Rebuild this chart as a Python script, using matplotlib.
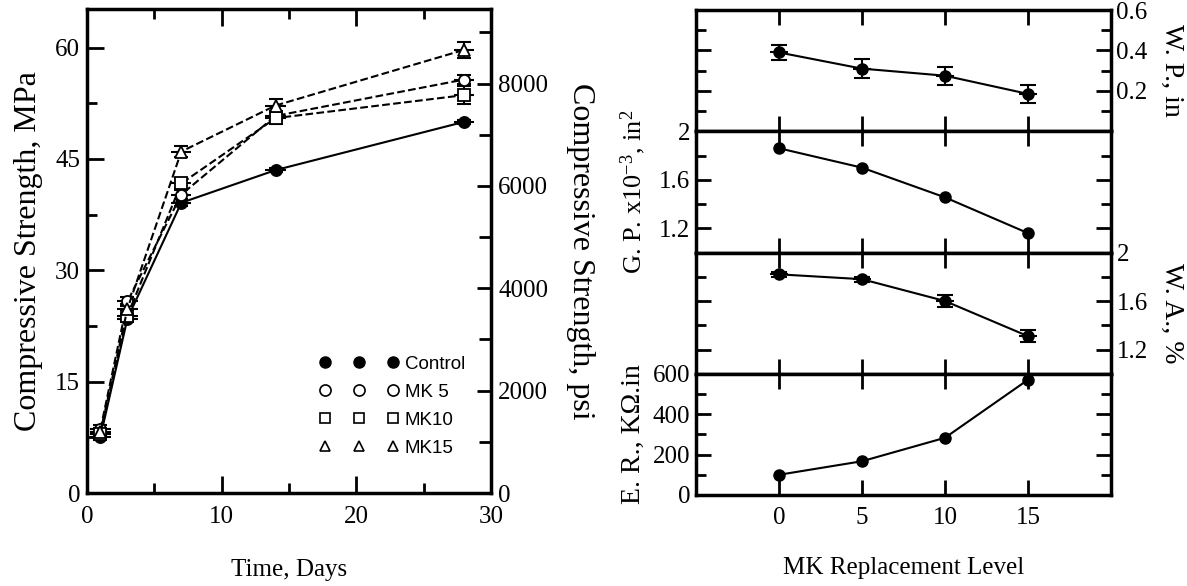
import numpy as np
import matplotlib
matplotlib.use("Agg")
import matplotlib.pyplot as plt
from matplotlib.lines import Line2D
from matplotlib.ticker import MultipleLocator
from matplotlib import font_manager

plt.rcParams['font.family'] = ['Liberation Serif', 'DejaVu Serif']
plt.rcParams['mathtext.fontset'] = 'custom'
plt.rcParams['mathtext.rm'] = 'Liberation Serif'
plt.rcParams['mathtext.it'] = 'Liberation Serif:italic'

installed = {f.name for f in font_manager.fontManager.ttflist}
if 'Liberation Sans Narrow' in installed:
    legend_font = {'family': 'Liberation Sans Narrow', 'size': 16}
else:
    legend_font = {'family': 'Liberation Sans', 'size': 13.5}

# compressive strength vs time
days = [1, 3, 7, 14, 28]
control = [7.6, 23.5, 39.1, 43.5, 50.0]
mk5 = [8.6, 25.8, 40.2, 50.8, 55.7]
mk10 = [8.0, 23.9, 41.7, 50.5, 53.6]
mk15 = [8.2, 24.8, 46.0, 52.2, 59.7]
control_err = [0.4, 0.5, 0.5, 0.3, 0.3]
mk5_err = [0.6, 0.6, 0.6, 0.6, 0.6]
mk10_err = [0.6, 0.7, 0.8, 0.8, 1.25]
mk15_err = [0.5, 0.7, 0.8, 0.9, 1.1]

# properties vs MK replacement level
mk_level = [0, 5, 10, 15]
wp = [0.39, 0.31, 0.275, 0.185]
wp_err = [0.038, 0.048, 0.045, 0.046]
gp = [1.86, 1.70, 1.455, 1.16]
wa = [1.82, 1.78, 1.60, 1.31]
wa_err = [0.02, 0.02, 0.05, 0.05]
er = [100, 167, 283, 570]

fig = plt.figure(figsize=(11.87, 5.86), dpi=100)

# ---- left panel
ax = fig.add_axes([0.0733, 0.1587, 0.3404, 0.8259])
series = [
    (control, control_err, 'o', 'black', '-'),
    (mk5, mk5_err, 'o', 'white', '--'),
    (mk10, mk10_err, 's', 'white', '--'),
    (mk15, mk15_err, '^', 'white', '--'),
]
for vals, err, mk, fc, ls in series:
    ax.plot(days, vals, ls=ls, color='black', lw=1.5, marker=mk, ms=8,
            mfc=fc, mec='black', mew=1.3, zorder=3)
    ax.errorbar(days, vals, yerr=err, fmt='none', ecolor='black', elinewidth=1.5,
                capsize=5, capthick=1.5, zorder=2)
    ax.errorbar(days, vals, xerr=0.75, fmt='none', ecolor='black', elinewidth=1.5,
                capsize=0, zorder=2)

ax.set_xlim(0, 30)
ax.set_ylim(0, 65.2)
ax.set_xticks([0, 10, 20, 30])
ax.xaxis.set_minor_locator(MultipleLocator(5))
ax.set_yticks([0, 15, 30, 45, 60])
ax.yaxis.set_minor_locator(MultipleLocator(7.5))
ax.tick_params(which='both', direction='in', top=True, labelsize=18, width=2)
ax.tick_params(axis='y', which='both', right=False, pad=5)
ax.tick_params(axis='x', pad=9)
ax.tick_params(which='major', length=12)
ax.tick_params(which='minor', length=7)
for s in ax.spines.values():
    s.set_linewidth(2.5)
ax.set_xlabel('Time, Days', fontsize=18, labelpad=23)
ax.set_ylabel('Compressive Strength, MPa', fontsize=23)
ax.yaxis.set_label_coords(-0.11, 0.5)

ax2 = ax.twinx()
ax2.set_ylim(0, 65.2 * 145.04)
ax2.set_yticks([0, 2000, 4000, 6000, 8000])
ax2.yaxis.set_minor_locator(MultipleLocator(1000))
ax2.tick_params(which='both', direction='in', labelsize=18, width=2, pad=5)
ax2.tick_params(which='major', length=10)
ax2.tick_params(which='minor', length=9)
ax2.set_ylabel('Compressive Strength, psi', fontsize=23, rotation=270, labelpad=34)

handles = [
    Line2D([], [], ls='none', marker='o', ms=8, mfc='black', mec='black'),
    Line2D([], [], ls='none', marker='o', ms=8, mfc='white', mec='black', mew=1.2),
    Line2D([], [], ls='none', marker='s', ms=7.5, mfc='white', mec='black', mew=1.2),
    Line2D([], [], ls='none', marker='^', ms=7, mfc='white', mec='black', mew=1.2),
]
labels = ['Control', 'MK 5', 'MK10', 'MK15']
ax.legend(handles, labels, loc='lower left', bbox_to_anchor=(0.552, 0.055),
          numpoints=3, handlelength=4.2, handletextpad=0.35, labelspacing=0.58,
          borderpad=0, frameon=False, prop=legend_font)

# ---- right panels
left, width = 0.5863, 0.3496
bottom, h = 0.1553, 0.2069
axs = [fig.add_axes([left, bottom + (3 - i) * h, width, h]) for i in range(4)]
for a in axs:
    a.set_xlim(-5, 20)
    a.set_xticks(mk_level)
    a.tick_params(which='both', direction='in', top=True, bottom=True,
                  left=True, right=True, labelsize=18, width=2, pad=4)
    a.tick_params(which='major', length=11)
    a.tick_params(which='minor', length=7)
    a.tick_params(axis='x', labelbottom=False)
    for s in a.spines.values():
        s.set_linewidth(2.5)

# W.P.
a = axs[0]
a.plot(mk_level, wp, '-o', color='black', lw=1.5, ms=8)
a.errorbar(mk_level, wp, yerr=wp_err, fmt='none', ecolor='black', elinewidth=1.5, capsize=6, capthick=1.5)
a.errorbar(mk_level, wp, xerr=0.55, fmt='none', ecolor='black', elinewidth=1.5, capsize=0)
a.set_ylim(0, 0.6)
a.set_yticks([0.2, 0.4, 0.6])
a.yaxis.set_minor_locator(MultipleLocator(0.1))
a.tick_params(axis='y', labelleft=False, labelright=True)
a.yaxis.set_label_position('right')
a.set_ylabel('W. P., in', fontsize=20, rotation=270, labelpad=26)

# G.P.
a = axs[1]
a.plot(mk_level, gp, '-o', color='black', lw=1.5, ms=8)
a.set_ylim(1, 2)
a.set_yticks([1.2, 1.6, 2])
a.set_yticklabels(['1.2', '1.6', '2'])
a.yaxis.set_minor_locator(MultipleLocator(0.2))
a.set_ylabel('G. P. x10$^{-3}$, in$^2$', fontsize=19)
a.yaxis.set_label_coords(-0.115, 0.5)

# W.A.
a = axs[2]
a.plot(mk_level, wa, '-o', color='black', lw=1.5, ms=8)
a.errorbar(mk_level, wa, yerr=wa_err, fmt='none', ecolor='black', elinewidth=1.5, capsize=6, capthick=1.5)
a.errorbar(mk_level, wa, xerr=0.55, fmt='none', ecolor='black', elinewidth=1.5, capsize=0)
a.set_ylim(1, 2)
a.set_yticks([1.2, 1.6, 2])
a.set_yticklabels(['1.2', '1.6', '2'])
a.yaxis.set_minor_locator(MultipleLocator(0.2))
a.tick_params(axis='y', labelleft=False, labelright=True)
a.yaxis.set_label_position('right')
a.set_ylabel('W. A., %', fontsize=20, rotation=270, labelpad=26)

# E.R.
a = axs[3]
a.plot(mk_level, er, '-o', color='black', lw=1.5, ms=8, clip_on=False)
a.set_ylim(0, 600)
a.set_yticks([0, 200, 400, 600])
a.yaxis.set_minor_locator(MultipleLocator(100))
a.tick_params(axis='x', labelbottom=True, pad=9)
a.set_ylabel('E. R., K\u03a9.in', fontsize=20)
a.yaxis.set_label_coords(-0.12, 0.5)
a.set_xlabel('MK Replacement Level', fontsize=18, labelpad=20)

fig.savefig('out.png', dpi=100)
